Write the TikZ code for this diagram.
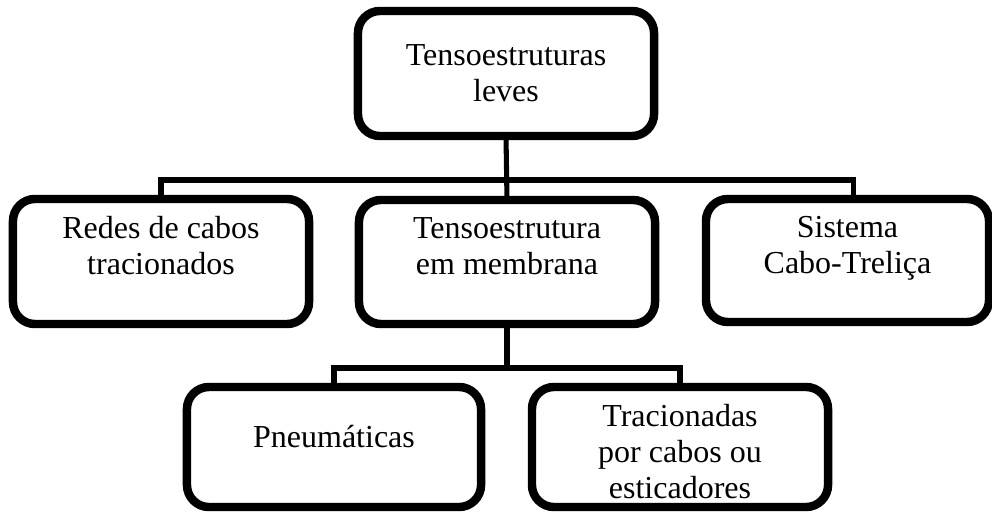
\documentclass[tikz,border=0pt]{standalone}
\usepackage{fontspec}
\setmainfont{Liberation Serif}
\usepackage{tikz}

\tikzset{
	box/.style={draw, line width=6pt, rounded corners=0.55cm, inner sep=0pt, outer sep=0pt},
	txt/.style={anchor=north, align=center, inner sep=0pt, font=\fontsize{22.76pt}{25.6pt}\selectfont},
	link/.style={line width=3.6pt}
}

\begin{document}
\begin{tikzpicture}[x=0.025cm,y=-0.025cm]
		%\draw[help lines] (0,0) grid (992,512);
		\useasboundingbox (0,0) rectangle (992,512);
		% boxes
		\node (leves) at (506,73.5) [box, minimum width=7.4cm, minimum height=3.125cm]{};
		\node (redes) at (161,261.5) [box, minimum width=7.4cm, minimum height=3.125cm]{};
		\node (membrana) at (507,262) [box, minimum width=7.4cm, minimum height=3.1cm]{};
		\node (sistema) at (847.5,260.5) [box, minimum width=7.075cm, minimum height=3.075cm]{};
		\node (pneu) at (334,447) [box, minimum width=7.35cm, minimum height=3cm]{};
		\node (trac) at (680,447) [box, minimum width=7.4cm, minimum height=3cm]{};
		% texts
		\node (leves-t) at (506,44) [txt]{Tensoestruturas\\leves};
		\node (redes-t) at (161,216) [txt]{Redes de cabos\\tracionados};
		\node (membrana-t) at (507,217) [txt]{Tensoestrutura\\em membrana};
		\node (sistema-t) at (847.5,216) [txt]{Sistema\\Cabo-Treliça};
		\node (pneu-t) at (334,425) [txt]{Pneumáticas};
		\node (trac-t) at (680,404) [txt]{Tracionadas\\por cabos ou\\esticadores};
		% connectors
		\coordinate (upbus) at (506,180);
		\coordinate (lowbus) at (507,368);
		\draw[link] (leves.south) -- (membrana.north);
		\draw[link] (redes.north) |- (upbus) -| ([xshift=0.14cm]sistema.north);
		\draw[link] (membrana.south) -- (lowbus);
		\draw[link] (pneu.north) |- (lowbus) -| (trac.north);
		\end{tikzpicture}
\end{document}
